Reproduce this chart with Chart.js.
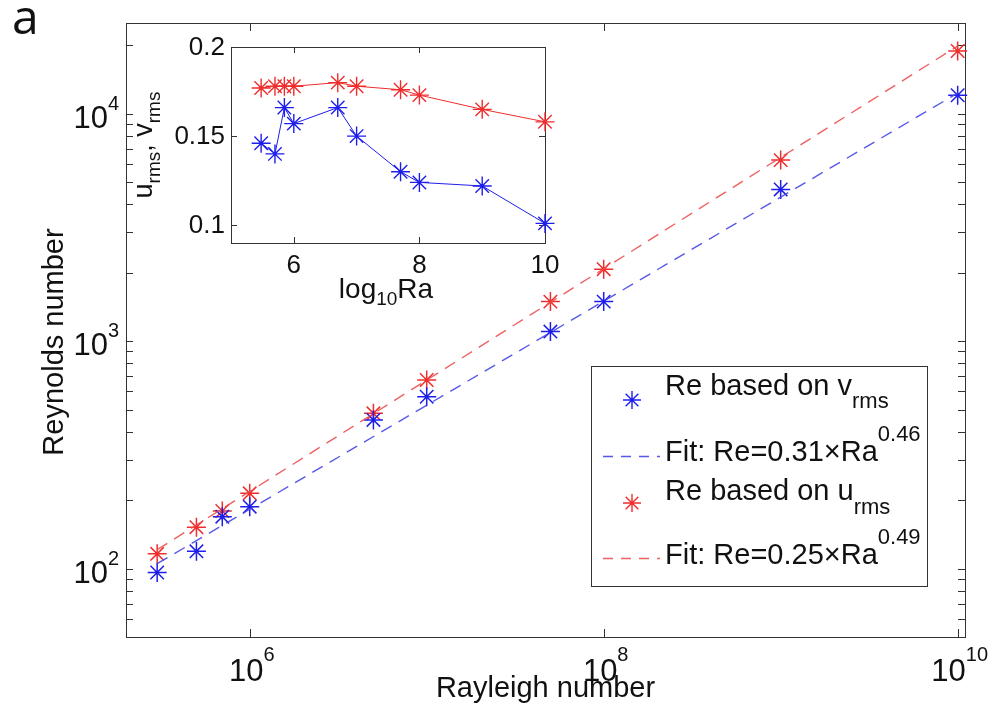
<!DOCTYPE html>
<html>
<head>
<meta charset="utf-8">
<script src="https://cdn.jsdelivr.net/npm/chart.js@4.4.0/dist/chart.umd.min.js"></script>
<style>
body { margin: 0; background: #fff; }
#wrap { position: relative; width: 989px; height: 720px; }
#mainChart { position: absolute; left: 0; top: 0; }
#insetChart { position: absolute; left: 128px; top: 28px; }
</style>
</head>
<body>
<div id="wrap">
  <canvas id="mainChart" width="989" height="720"></canvas>
  <canvas id="insetChart" width="442" height="282"></canvas>
</div>
<script>
// main panel: Reynolds number vs Rayleigh number
const raValues = [3e5, 5e5, 7e5, 1e6, 5e6, 1e7, 5e7, 1e8, 1e9, 1e10];
const reFromV = [96, 119, 169, 187, 450, 569, 1100, 1490, 4640, 12030];
const reFromU = [116, 152, 179, 214, 481, 674, 1490, 2070, 6240, 18840];
// fit lines (end points)
const fitRa = [3e5, 1e10];
const fitV = [105, 12300];
const fitU = [121, 19800];

// inset: rms velocities vs log10 Ra
const insetLogRa = [5.48, 5.70, 5.85, 6, 6.7, 7, 7.7, 8, 9, 10];
const insetV = [0.146, 0.140, 0.166, 0.157, 0.166, 0.150, 0.130, 0.124, 0.122, 0.101];
const insetU = [0.177, 0.178, 0.178, 0.178, 0.180, 0.178, 0.176, 0.173, 0.165, 0.158];

// tick labels
const xTicks = [1e6, 1e8, 1e10];
const xTickExp = ['6', '8', '10'];
const yTicks = [1e2, 1e3, 1e4];
const yTickExp = ['2', '3', '4'];
const insetXTicks = [6, 8, 10];
const insetXLabels = ['6', '8', '10'];
const insetYTicks = [0.1, 0.15, 0.2];
const insetYLabels = ['0.1', '0.15', '0.2'];

const FONT = "'Liberation Sans', Arial, sans-serif";
const BLUE = 'rgb(30,30,235)';
const RED = 'rgb(240,45,45)';
const BLUE_DASH = 'rgba(70,70,230,0.9)';
const RED_DASH = 'rgba(235,80,80,0.9)';
const AXIS = '#333';
const TEXT = '#111';

function pair(xs, ys) {
  return xs.map((x, i) => ({ x: x, y: ys[i] }));
}

function star(ctx, x, y, r, color) {
  ctx.save();
  ctx.strokeStyle = color;
  ctx.lineWidth = 1.4;
  ctx.beginPath();
  for (let k = 0; k < 4; k++) {
    const a = k * Math.PI / 4;
    ctx.moveTo(x - Math.cos(a) * r, y - Math.sin(a) * r);
    ctx.lineTo(x + Math.cos(a) * r, y + Math.sin(a) * r);
  }
  ctx.stroke();
  ctx.restore();
}

// draws pieces [{t, size, dy}] one after another from x
function pieces(ctx, parts, x, y) {
  parts.forEach((p) => {
    ctx.font = p.size + 'px ' + FONT;
    ctx.fillText(p.t, x, y + (p.dy || 0));
    x += ctx.measureText(p.t).width;
  });
}
function piecesWidth(ctx, parts) {
  let w = 0;
  parts.forEach((p) => {
    ctx.font = p.size + 'px ' + FONT;
    w += ctx.measureText(p.t).width;
  });
  return w;
}

const mainDecor = {
  id: 'mainDecor',
  beforeDatasetsDraw(chart) {
    const ctx = chart.ctx;
    const a = chart.chartArea;
    const xs = chart.scales.x, ys = chart.scales.y;
    ctx.save();
    ctx.strokeStyle = AXIS;
    ctx.lineWidth = 1;
    ctx.strokeRect(a.left + 0.5, a.top + 0.5, a.right - a.left, a.bottom - a.top);
    ctx.beginPath();
    // y ticks, major and minor, on both sides
    for (let d = 1; d <= 4; d++) {
      for (let k = 1; k <= 9; k++) {
        const v = k * Math.pow(10, d);
        if (v < ys.min || v > ys.max) continue;
        const py = Math.round(ys.getPixelForValue(v)) + 0.5;
        ctx.moveTo(a.left, py); ctx.lineTo(a.left + 7, py);
        ctx.moveTo(a.right, py); ctx.lineTo(a.right - 7, py);
      }
    }
    xTicks.forEach((v) => {
      const px = Math.round(xs.getPixelForValue(v)) + 0.5;
      ctx.moveTo(px, a.bottom); ctx.lineTo(px, a.bottom - 8);
      ctx.moveTo(px, a.top); ctx.lineTo(px, a.top + 8);
    });
    ctx.stroke();
    ctx.restore();
  },
  afterDraw(chart) {
    const ctx = chart.ctx;
    const a = chart.chartArea;
    const xs = chart.scales.x, ys = chart.scales.y;
    ctx.save();
    ctx.fillStyle = TEXT;
    ctx.textAlign = 'left';
    ctx.textBaseline = 'alphabetic';

    // x tick labels 10^n
    xTicks.forEach((v, i) => {
      const px = xs.getPixelForValue(v);
      const parts = [{ t: '10', size: 31 }, { t: xTickExp[i], size: 20, dy: -20 }];
      const w = piecesWidth(ctx, parts);
      pieces(ctx, parts, px - w / 2 + 2, a.bottom + 44);
    });
    // y tick labels
    yTicks.forEach((v, i) => {
      const py = ys.getPixelForValue(v);
      const parts = [{ t: '10', size: 31 }, { t: yTickExp[i], size: 20, dy: -18 }];
      const w = piecesWidth(ctx, parts);
      pieces(ctx, parts, 119 - w, py + 14);
    });

    // axis titles
    ctx.font = '29px ' + FONT;
    ctx.textAlign = 'center';
    ctx.fillText('Rayleigh number', (a.left + a.right) / 2, 697);
    ctx.save();
    ctx.translate(63, (a.top + a.bottom) / 2 + 12);
    ctx.rotate(-Math.PI / 2);
    ctx.fillText('Reynolds number', 0, 0);
    ctx.restore();

    // panel letter
    ctx.textAlign = 'left';
    ctx.font = "48px 'Open Sans', sans-serif";
    ctx.fillText('a', 12, 34);

    // legend
    ctx.fillStyle = '#fff';
    ctx.fillRect(592, 366, 336, 221);
    ctx.strokeStyle = AXIS;
    ctx.lineWidth = 1;
    ctx.strokeRect(591.5, 366.5, 336, 220);
    star(ctx, 632, 400, 9, BLUE);
    star(ctx, 632, 503, 9, RED);
    ctx.lineWidth = 1.3;
    ctx.setLineDash([10, 8]);
    ctx.strokeStyle = BLUE_DASH;
    ctx.beginPath(); ctx.moveTo(603, 456.5); ctx.lineTo(660, 456.5); ctx.stroke();
    ctx.strokeStyle = RED_DASH;
    ctx.beginPath(); ctx.moveTo(603, 558.5); ctx.lineTo(660, 558.5); ctx.stroke();
    ctx.setLineDash([]);
    ctx.fillStyle = TEXT;
    pieces(ctx, [{ t: 'Re based on v', size: 29 }, { t: 'rms', size: 22, dy: 13 }], 665, 395);
    pieces(ctx, [{ t: 'Fit: Re=0.31\u00d7Ra', size: 29 }, { t: '0.46', size: 22, dy: -20 }], 665, 461);
    pieces(ctx, [{ t: 'Re based on u', size: 29 }, { t: 'rms', size: 22, dy: 14 }], 665, 500);
    pieces(ctx, [{ t: 'Fit: Re=0.25\u00d7Ra', size: 29 }, { t: '0.49', size: 22, dy: -20 }], 665, 564);
    ctx.restore();
  }
};

new Chart(document.getElementById('mainChart'), {
  type: 'scatter',
  data: {
    datasets: [
      { data: pair(fitRa, fitV), showLine: true, borderColor: BLUE_DASH, borderDash: [12, 8], borderWidth: 1.4, pointRadius: 0, clip: false },
      { data: pair(fitRa, fitU), showLine: true, borderColor: RED_DASH, borderDash: [12, 8], borderWidth: 1.4, pointRadius: 0, clip: false },
      { data: pair(raValues, reFromV), pointStyle: 'star', pointRadius: 9.5, borderColor: BLUE, backgroundColor: BLUE, borderWidth: 1.5, showLine: false, clip: false },
      { data: pair(raValues, reFromU), pointStyle: 'star', pointRadius: 9.5, borderColor: RED, backgroundColor: RED, borderWidth: 1.5, showLine: false, clip: false }
    ]
  },
  options: {
    responsive: false,
    animation: false,
    devicePixelRatio: 1,
    layout: { padding: { left: 126, top: 23, right: 24, bottom: 83 } },
    plugins: { legend: { display: false }, tooltip: { enabled: false } },
    scales: {
      x: { type: 'logarithmic', min: 2e5, max: 1.1e10, display: false },
      y: { type: 'logarithmic', min: 50, max: 25000, display: false }
    }
  },
  plugins: [mainDecor]
});

const insetDecor = {
  id: 'insetDecor',
  beforeDatasetsDraw(chart) {
    const ctx = chart.ctx;
    const a = chart.chartArea;
    const xs = chart.scales.x, ys = chart.scales.y;
    ctx.save();
    ctx.fillStyle = '#fff';
    ctx.fillRect(a.left, a.top, a.right - a.left, a.bottom - a.top);
    ctx.strokeStyle = AXIS;
    ctx.lineWidth = 1;
    ctx.strokeRect(a.left + 0.5, a.top + 0.5, a.right - a.left, a.bottom - a.top);
    ctx.beginPath();
    insetXTicks.forEach((v) => {
      const px = Math.round(xs.getPixelForValue(v)) + 0.5;
      ctx.moveTo(px, a.bottom); ctx.lineTo(px, a.bottom - 6);
      ctx.moveTo(px, a.top); ctx.lineTo(px, a.top + 6);
    });
    insetYTicks.forEach((v) => {
      const py = Math.round(ys.getPixelForValue(v)) + 0.5;
      ctx.moveTo(a.left, py); ctx.lineTo(a.left + 6, py);
      ctx.moveTo(a.right, py); ctx.lineTo(a.right - 6, py);
    });
    ctx.stroke();
    ctx.restore();
  },
  afterDraw(chart) {
    const ctx = chart.ctx;
    const a = chart.chartArea;
    const xs = chart.scales.x, ys = chart.scales.y;
    ctx.save();
    ctx.fillStyle = TEXT;
    ctx.font = '26px ' + FONT;
    ctx.textAlign = 'right';
    ctx.textBaseline = 'middle';
    insetYTicks.forEach((v, i) => {
      ctx.fillText(insetYLabels[i], a.left - 6, ys.getPixelForValue(v) + 1);
    });
    ctx.textAlign = 'center';
    ctx.textBaseline = 'alphabetic';
    insetXTicks.forEach((v, i) => {
      ctx.fillText(insetXLabels[i], xs.getPixelForValue(v), a.bottom + 30);
    });
    ctx.textAlign = 'left';
    const xt = [{ t: 'log', size: 28 }, { t: '10', size: 19, dy: 7 }, { t: 'Ra', size: 28 }];
    pieces(ctx, xt, (a.left + a.right) / 2 - piecesWidth(ctx, xt) / 2 - 2, a.bottom + 55);
    const yt = [{ t: 'u', size: 27 }, { t: 'rms', size: 19, dy: 8 }, { t: ', v', size: 27 }, { t: 'rms', size: 19, dy: 8 }];
    ctx.save();
    ctx.translate(24, (a.top + a.bottom) / 2);
    ctx.rotate(-Math.PI / 2);
    pieces(ctx, yt, -piecesWidth(ctx, yt) / 2, 0);
    ctx.restore();
    ctx.restore();
  }
};

new Chart(document.getElementById('insetChart'), {
  type: 'scatter',
  data: {
    datasets: [
      { data: pair(insetLogRa, insetV), showLine: true, borderColor: BLUE, borderWidth: 1, pointStyle: 'star', pointRadius: 9.5, pointBorderWidth: 1.4, pointBorderColor: BLUE, clip: false },
      { data: pair(insetLogRa, insetU), showLine: true, borderColor: RED, borderWidth: 1, pointStyle: 'star', pointRadius: 9.5, pointBorderWidth: 1.4, pointBorderColor: RED, clip: false }
    ]
  },
  options: {
    responsive: false,
    animation: false,
    devicePixelRatio: 1,
    layout: { padding: { left: 103, top: 19, right: 25, bottom: 67 } },
    plugins: { legend: { display: false }, tooltip: { enabled: false } },
    scales: {
      x: { type: 'linear', min: 5, max: 10, display: false },
      y: { type: 'linear', min: 0.09, max: 0.2, display: false }
    }
  },
  plugins: [insetDecor]
});
</script>
</body>
</html>
